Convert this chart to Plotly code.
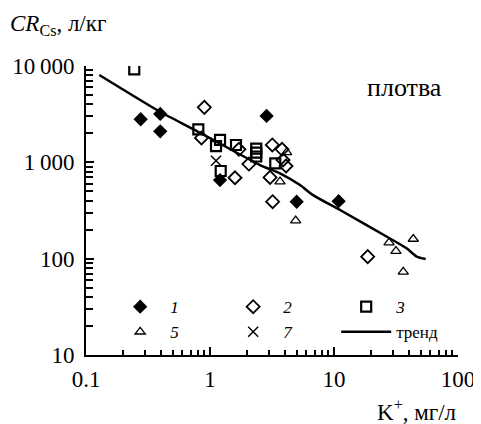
import plotly.graph_objects as go

# series 1 (filled diamonds)
k1 = [0.276, 0.397, 0.397, 2.86, 1.205, 5.0, 10.9]
cr1 = [2800, 3180, 2100, 3030, 655, 390, 395]
# series 2 (open diamonds)
k2 = [0.90, 0.854, 1.71, 2.06, 1.59, 3.18, 3.81, 3.88, 4.10, 3.05, 3.20, 18.7]
cr2 = [3720, 1790, 1365, 960, 692, 1514, 1365, 1057, 916, 698, 390, 105]
# series 3 (open squares)
k3 = [0.245, 0.805, 1.205, 1.118, 1.62, 2.36, 2.36, 2.36, 1.22, 3.36]
cr3 = [9240, 2200, 1707, 1476, 1514, 1390, 1264, 1149, 813, 977]
# series 5 (open triangles)
k5 = [4.15, 3.67, 4.91, 27.8, 43.6, 31.6, 36.2]
cr5 = [1270, 630, 248, 147, 160, 120, 73]
# series 7 (crosses)
k7 = [1.118]
cr7 = [1040]
# trend
kt = [0.128, 0.395, 0.757, 2.53, 3.67, 5.32, 6.77, 11.2, 28.3, 38.5, 46.5, 54.9]
crt = [8064, 3350, 2162, 938, 770, 581, 457, 320, 162, 128, 105, 99]

yticks = [10, 100, 1000, 10000]
yticktext = ["10", "100", "1\u2009000", "10\u2009000"]
xticks = [0.1, 1, 10, 100]
xticktext = ["0.1", "1", "10", "100"]

FONT = "Liberation Serif"
fig = go.Figure()
fig.add_trace(go.Scatter(x=k1, y=cr1, mode="markers", name="<i>1</i>",
                         marker=dict(symbol="diamond", size=11, color="black",
                                     line=dict(width=0))))
fig.add_trace(go.Scatter(x=k2, y=cr2, mode="markers", name="<i>2</i>",
                         marker=dict(symbol="diamond-open", size=10, color="black",
                                     line=dict(width=1.8))))
fig.add_trace(go.Scatter(x=k3, y=cr3, mode="markers", name="<i>3</i>",
                         marker=dict(symbol="square-open", size=10, color="black",
                                     line=dict(width=2.2))))
fig.add_trace(go.Scatter(x=k5, y=cr5, mode="markers", name="<i>5</i>",
                         marker=dict(symbol="triangle-up-open", size=9, color="black",
                                     line=dict(width=1.3))))
fig.add_trace(go.Scatter(x=k7, y=cr7, mode="markers", name="<i>7</i>",
                         marker=dict(symbol="x-thin-open", size=10, color="black",
                                     line=dict(width=1.5))))
fig.add_trace(go.Scatter(x=kt, y=crt, mode="lines", name="тренд",
                         line=dict(color="black", width=2.5, shape="spline", smoothing=0.6)))

# page body has an 8px margin, so the figure is drawn 8px in from the window edge
fig.update_layout(
    width=473, height=416,
    margin=dict(l=78, r=23, t=58, b=69),
    paper_bgcolor="white", plot_bgcolor="white",
    font=dict(family=FONT, size=23, color="black"),
    showlegend=True,
    legend=dict(orientation="h", x=0.065, y=0.228, xanchor="left", yanchor="top",
                entrywidth=48, entrywidthmode="pixels", font=dict(size=17),
                bgcolor="rgba(0,0,0,0)", tracegroupgap=0, itemwidth=50),
    xaxis=dict(type="log", range=[-1, 2], tickvals=xticks, ticktext=xticktext,
               automargin=False, ticklabelstandoff=2,
               showgrid=False, zeroline=False, showline=True, linecolor="black",
               linewidth=2, ticks="inside", ticklen=8, tickwidth=2, tickcolor="black",
               minor=dict(ticks="inside", ticklen=5, tickwidth=1.5, tickcolor="black",
                          dtick="D1", showgrid=False)),
    yaxis=dict(type="log", range=[1, 4], tickvals=yticks, ticktext=yticktext,
               automargin=False, ticklabelstandoff=5,
               showgrid=False, zeroline=False, showline=True, linecolor="black",
               linewidth=2, ticks="inside", ticklen=8, tickwidth=2, tickcolor="black",
               minor=dict(ticks="inside", ticklen=7, tickwidth=2, tickcolor="black",
                          dtick="D1", showgrid=False)),
)

fig.add_annotation(text="<i>CR</i><sub>Cs</sub>, л/кг", xref="paper", yref="paper",
                   x=-78/372, y=1 + 41/289, xanchor="left", yanchor="middle",
                   showarrow=False, font=dict(size=23))
fig.add_annotation(text="K<sup>+</sup>, мг/л", xref="paper", yref="paper",
                   x=1.0, y=-55/289, xanchor="right", yanchor="middle",
                   showarrow=False, font=dict(size=23))
fig.add_annotation(text="плотва", xref="paper", yref="paper",
                   x=(404 - 86) / 372, y=(355 - 87) / 289, xanchor="center", yanchor="middle",
                   showarrow=False, font=dict(size=26))

fig.write_html("out.html")
